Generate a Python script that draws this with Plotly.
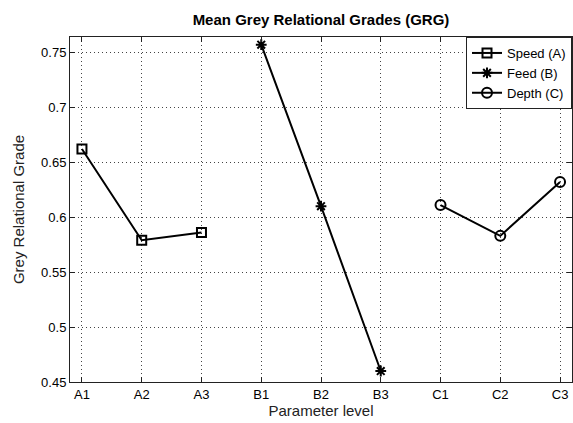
import plotly.graph_objects as go

levels = ["A1", "A2", "A3", "B1", "B2", "B3", "C1", "C2", "C3"]
speed_levels = ["A1", "A2", "A3"]
speed_vals = [0.662, 0.579, 0.586]
feed_levels = ["B1", "B2", "B3"]
feed_vals = [0.757, 0.610, 0.460]
depth_levels = ["C1", "C2", "C3"]
depth_vals = [0.611, 0.583, 0.632]
y_ticks = [0.45, 0.5, 0.55, 0.6, 0.65, 0.7, 0.75]
y_ticktext = ["0.45", "0.5", "0.55", "0.6", "0.65", "0.7", "0.75"]

pos = {lv: i + 1 for i, lv in enumerate(levels)}
font = "Liberation Sans, Arial, Helvetica, sans-serif"

fig = go.Figure()
series = [
    ("Speed (A)", speed_levels, speed_vals, "square-open", 9),
    ("Feed (B)", feed_levels, feed_vals, "asterisk-open", 9),
    ("Depth (C)", depth_levels, depth_vals, "circle-open", 10),
]
for name, lv, vals, sym, sz in series:
    fig.add_trace(go.Scatter(
        x=[pos[l] for l in lv], y=vals, name=name, mode="lines+markers",
        line=dict(color="black", width=2),
        marker=dict(symbol=sym, size=sz, color="black",
                    line=dict(color="black", width=2)),
    ))

axis_common = dict(
    showline=True, linecolor="#222222", linewidth=1, mirror="ticks",
    ticks="inside", ticklen=5, tickcolor="#222222",
    showgrid=True, gridcolor="#444444", griddash="1px,3px", gridwidth=1,
    zeroline=False,
    tickfont=dict(family=font, size=13, color="black"),
)

fig.update_layout(
    width=573, height=423,
    margin=dict(l=70, r=1, t=37, b=41),
    paper_bgcolor="white", plot_bgcolor="white",
    font=dict(family=font, size=13, color="black"),
    title=dict(text="<b>Mean Grey Relational Grades (GRG)</b>",
               x=0.5, xanchor="center", xref="paper", y=1 - 20 / 423, yanchor="middle",
               font=dict(family=font, size=15, color="black")),
    xaxis=dict(range=[0.8, 9.2], tickvals=list(range(1, 10)), ticktext=levels,
               title=dict(text="Parameter level", standoff=2,
                          font=dict(family=font, size=15, color="#222222")),
               **axis_common),
    yaxis=dict(range=[0.45, 0.764], tickvals=y_ticks, ticktext=y_ticktext,
               title=dict(text="Grey Relational Grade", standoff=12,
                          font=dict(family=font, size=15, color="#222222")),
               **axis_common),
    legend=dict(x=1, xanchor="right", y=1, yanchor="top",
                bgcolor="white", bordercolor="#222222", borderwidth=1,
                font=dict(family=font, size=13, color="black"),
                tracegroupgap=0),
    showlegend=True,
)

fig.write_html("out.html")
